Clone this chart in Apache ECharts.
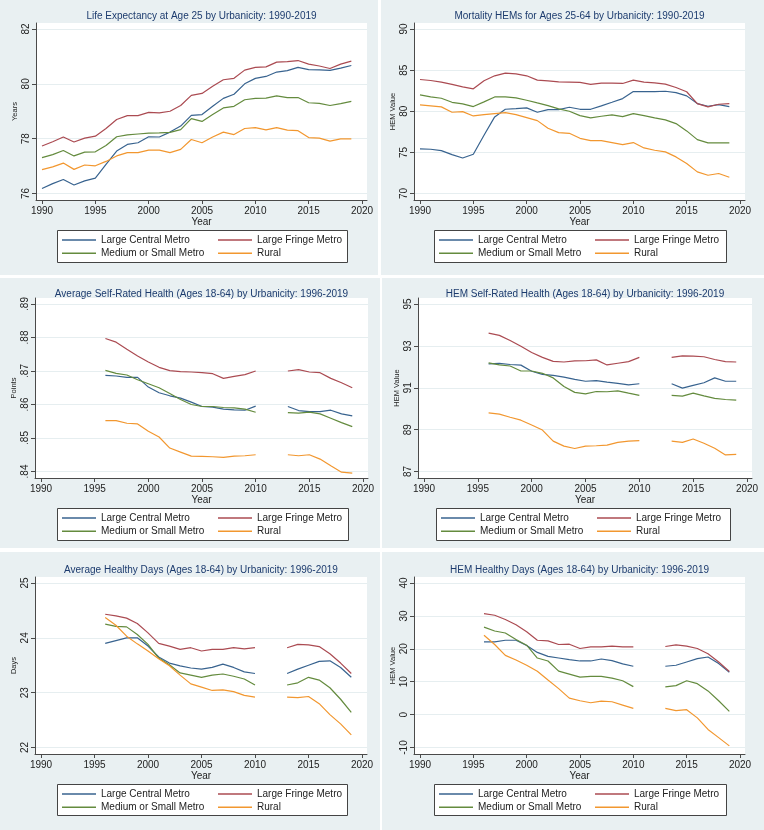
<!DOCTYPE html>
<html><head><meta charset="utf-8">
<script src="https://cdn.jsdelivr.net/npm/echarts@6/dist/echarts.min.js"></script>
<style>
html,body{margin:0;padding:0;background:#fff;}
body{width:764px;height:830px;position:relative;overflow:hidden;}
.p{position:absolute;background:#e9f0f2;}
</style></head><body>
<div id="c1" class="p" style="left:0;top:0;width:378px;height:275px"></div>
<div id="c2" class="p" style="left:381px;top:0;width:383px;height:275px"></div>
<div id="c3" class="p" style="left:0;top:278px;width:380px;height:270px"></div>
<div id="c4" class="p" style="left:382px;top:278px;width:382px;height:270px"></div>
<div id="c5" class="p" style="left:0;top:552px;width:380px;height:278px"></div>
<div id="c6" class="p" style="left:382px;top:552px;width:382px;height:278px"></div>
<script>
// ---------- data ----------
const seriesNames = ['Large Central Metro','Large Fringe Metro','Medium or Small Metro','Rural'];
const xTicks = [1990,1995,2000,2005,2010,2015,2020];

const years1990 = [1990,1991,1992,1993,1994,1995,1996,1997,1998,1999,2000,2001,2002,2003,2004,2005,2006,2007,2008,2009,2010,2011,2012,2013,2014,2015,2016,2017,2018,2019];
const years1996 = [1996,1997,1998,1999,2000,2001,2002,2003,2004,2005,2006,2007,2008,2009,2010,2011,2012,2013,2014,2015,2016,2017,2018,2019];

// Life expectancy at age 25
const leCentral = [76.18,76.36,76.51,76.31,76.46,76.56,77.06,77.55,77.79,77.85,78.07,78.06,78.24,78.46,78.85,78.88,79.18,79.47,79.62,80.00,80.20,80.27,80.43,80.48,80.60,80.52,80.51,80.49,80.57,80.67];
const leFringe  = [77.73,77.89,78.06,77.88,78.02,78.09,78.37,78.70,78.84,78.84,78.96,78.94,79.00,79.21,79.58,79.65,79.91,80.15,80.20,80.50,80.60,80.62,80.79,80.81,80.85,80.72,80.65,80.56,80.72,80.83];
const leMedium  = [77.31,77.42,77.57,77.37,77.51,77.52,77.75,78.07,78.14,78.17,78.20,78.21,78.23,78.33,78.73,78.63,78.88,79.12,79.18,79.42,79.47,79.48,79.56,79.50,79.50,79.31,79.29,79.21,79.28,79.36];
const leRural   = [76.87,76.97,77.11,76.88,77.04,77.01,77.17,77.37,77.49,77.49,77.58,77.58,77.49,77.61,77.97,77.85,78.06,78.24,78.15,78.37,78.40,78.32,78.40,78.31,78.29,78.04,78.02,77.91,77.99,77.99];
const leTicks = [76,78,80,82];

// Mortality HEMs ages 25-64
const mhCentral = [75.42,75.38,75.22,74.73,74.32,74.77,77.08,79.31,80.24,80.32,80.41,79.88,80.20,80.20,80.49,80.24,80.24,80.65,81.09,81.54,82.39,82.39,82.39,82.43,82.27,81.87,80.93,80.61,80.81,80.57];
const mhFringe  = [83.86,83.74,83.54,83.26,82.97,82.73,83.70,84.31,84.64,84.55,84.31,83.78,83.70,83.58,83.54,83.50,83.26,83.42,83.42,83.38,83.78,83.54,83.46,83.30,82.89,82.37,80.93,80.53,80.85,80.93];
const mhMedium  = [81.99,81.74,81.58,81.09,80.89,80.57,81.14,81.74,81.74,81.62,81.34,81.01,80.69,80.28,80.00,79.47,79.19,79.39,79.55,79.35,79.72,79.47,79.19,78.95,78.50,77.61,76.55,76.15,76.15,76.15];
const mhRural   = [80.77,80.65,80.53,79.88,79.96,79.43,79.59,79.72,79.84,79.59,79.23,78.86,77.93,77.40,77.32,76.71,76.43,76.43,76.19,75.94,76.19,75.54,75.26,75.06,74.45,73.64,72.63,72.22,72.43,71.98];
const mhTicks = [70,75,80,85,90];

// Average self-rated health
const srCentral = [.8687,.8685,.8681,.8681,.8652,.8635,.8626,.8619,.8607,.8594,.8592,.8586,.8584,.8583,.8595,null,null,.8594,.8582,.8579,.8579,.8583,.8572,.8566];
const srFringe  = [.8797,.8786,.8765,.8745,.8727,.8711,.8701,.8698,.8697,.8695,.8692,.8678,.8684,.8689,.8700,null,null,.8700,.8704,.8697,.8695,.8678,.8665,.8650];
const srMedium  = [.8702,.8693,.8688,.8674,.8662,.8650,.8633,.8615,.8600,.8594,.8594,.8591,.8590,.8586,.8577,null,null,.8576,.8574,.8577,.8572,.8559,.8546,.8534];
const srRural   = [.8552,.8552,.8544,.8542,.8520,.8503,.8470,.8458,.8446,.8445,.8444,.8442,.8446,.8447,.8450,null,null,.8450,.8447,.8450,.8437,.8417,.8398,.8395];
const srTicks = [0.84,0.85,0.86,0.87,0.88,0.89];

// HEM self-rated health
const hsCentral = [92.14,92.16,92.11,92.08,91.79,91.64,91.59,91.51,91.40,91.31,91.34,91.27,91.21,91.14,91.19,null,null,91.19,90.98,91.11,91.24,91.47,91.31,91.31];
const hsFringe  = [93.61,93.50,93.26,92.98,92.68,92.45,92.26,92.23,92.28,92.29,92.33,92.09,92.17,92.25,92.45,null,null,92.45,92.52,92.51,92.48,92.35,92.25,92.23];
const hsMedium  = [92.19,92.09,92.04,91.80,91.80,91.69,91.47,91.06,90.78,90.71,90.82,90.81,90.85,90.74,90.64,null,null,90.64,90.60,90.74,90.61,90.49,90.44,90.41];
const hsRural   = [89.80,89.74,89.59,89.45,89.22,88.98,88.45,88.21,88.10,88.21,88.23,88.26,88.39,88.45,88.47,null,null,88.45,88.39,88.55,88.35,88.11,87.79,87.82];
const hsTicks = [87,89,91,93,95];

// Average healthy days
const hdCentral = [23.90,23.95,24.00,24.00,23.85,23.65,23.54,23.49,23.45,23.43,23.46,23.52,23.46,23.38,23.35,null,null,23.35,23.43,23.50,23.57,23.58,23.46,23.28];
const hdFringe  = [24.43,24.40,24.36,24.26,24.09,23.90,23.85,23.79,23.82,23.76,23.79,23.79,23.82,23.80,23.82,null,null,23.82,23.88,23.87,23.84,23.71,23.54,23.35];
const hdMedium  = [24.25,24.21,24.20,24.06,23.88,23.63,23.51,23.36,23.32,23.28,23.32,23.34,23.30,23.25,23.14,null,null,23.14,23.18,23.28,23.23,23.09,22.88,22.64];
const hdRural   = [24.37,24.23,24.03,23.89,23.76,23.62,23.49,23.32,23.16,23.10,23.04,23.05,23.02,22.95,22.92,null,null,22.92,22.91,22.93,22.80,22.60,22.43,22.23];
const hdTicks = [22,23,24,25];

// HEM healthy days
const hhCentral = [22.1,22.1,22.6,22.6,21.0,18.9,17.7,17.2,16.7,16.3,16.3,16.9,16.4,15.4,14.7,null,null,14.7,15.0,16.0,17.0,17.5,15.5,12.9];
const hhFringe  = [30.7,30.2,28.9,27.3,25.2,22.6,22.4,21.3,21.4,20.1,20.6,20.6,20.8,20.6,20.6,null,null,20.7,21.2,20.8,20.1,18.5,16.0,13.1];
const hhMedium  = [26.6,25.4,24.8,22.8,21.1,17.2,16.3,13.2,12.3,11.4,11.6,11.6,11.1,10.3,8.5,null,null,8.4,8.8,10.3,9.4,7.2,4.2,1.0];
const hhRural   = [24.1,21.3,18.0,16.6,15.0,13.2,10.5,7.9,5.0,4.2,3.6,4.1,3.9,2.9,1.9,null,null,1.9,1.2,1.5,-1.0,-4.5,-7.0,-9.5];
const hhTicks = [-10,0,10,20,30,40];

// ---------- styling ----------
const FONT = '"Liberation Sans", Arial, Helvetica, sans-serif';
const lineColors = ['#38638f','#ab4b52','#648b3e','#f2972f'];
const titleColor = '#1c3b6e';

function makePanel(id, cfg) {
  const chart = echarts.init(document.getElementById(id));
  const L = cfg.layout;
  const W = L.plot[2] - L.plot[0], H = L.plot[3] - L.plot[1];
  const x0 = xTicks[0], x1 = xTicks[xTicks.length - 1];
  const px = (W - 11) / (x1 - x0);
  const y0 = cfg.yTicks[0], y1 = cfg.yTicks[cfg.yTicks.length - 1];
  const py = (H - 12.5) / (y1 - y0);
  const axisCol = '#4a4a4a';
  const series = cfg.values.map((vals, i) => ({
    type: 'line', name: seriesNames[i],
    data: cfg.years.map((y, j) => [y, vals[j]]),
    symbol: 'none', showSymbol: false, connectNulls: false, silent: true,
    lineStyle: { width: 1.2, color: lineColors[i] },
    itemStyle: { color: lineColors[i] }
  }));
  const legBase = {
    orient: 'vertical', padding: 0, itemWidth: 34, itemHeight: 1.6, itemGap: 0.3,
    icon: 'rect', selectedMode: false,
    textStyle: { fontSize: 10, color: '#222', fontFamily: FONT, lineHeight: 13 }
  };
  const option = {
    animation: false,
    textStyle: { fontFamily: FONT },
    grid: { left: L.plot[0], top: L.plot[1], width: W, height: H, show: true,
            backgroundColor: '#ffffff', borderWidth: 0,
            containLabel: false, outerBoundsMode: 'none' },
    xAxis: {
      type: 'value', min: x0 - 6 / px, max: x1 + 5 / px,
      name: 'Year', nameLocation: 'middle', nameGap: 17, nameMoveOverlap: false,
      nameTextStyle: { fontSize: 10, color: '#222' },
      axisLine: { onZero: false, lineStyle: { color: axisCol, width: 1 } },
      axisTick: { show: true, length: 4, customValues: xTicks, lineStyle: { color: axisCol } },
      axisLabel: { customValues: xTicks, fontSize: 10, color: '#222', margin: 6,
                   formatter: v => String(Math.round(v)) },
      splitLine: { show: false }
    },
    yAxis: {
      type: 'value', min: y0 - 6.5 / py, max: y1 + 6 / py,
      name: cfg.yName, nameLocation: 'middle', nameGap: 17.5, nameRotate: 90, nameMoveOverlap: false,
      nameTextStyle: { fontSize: 7.5, color: '#222' },
      axisLine: { show: true, onZero: false, lineStyle: { color: axisCol, width: 1 } },
      axisTick: { show: true, length: 4, customValues: cfg.yTicks, lineStyle: { color: axisCol } },
      axisLabel: { customValues: cfg.yTicks, rotate: 90, fontSize: 10, color: '#222', margin: 5,
                   formatter: cfg.yFmt },
      splitLine: { show: true, lineStyle: { color: '#e6eef0', width: 1 } }
    },
    legend: [
      Object.assign({}, legBase, { left: L.leg[0] + 5, top: L.leg[1] + 3.5, data: [seriesNames[0], seriesNames[2]] }),
      Object.assign({}, legBase, { left: L.leg[0] + 161, top: L.leg[1] + 3.5, data: [seriesNames[1], seriesNames[3]] })
    ],
    graphic: [
      { type: 'rect', z: 1, shape: { x: L.leg[0] + 0.5, y: L.leg[1] + 0.5, width: L.leg[2] - L.leg[0], height: L.leg[3] - L.leg[1] },
        style: { fill: '#ffffff', stroke: '#444', lineWidth: 1 } },
      { type: 'text', z: 5, x: (L.plot[0] + L.plot[2]) / 2, y: L.titleY,
        style: { text: cfg.title, fill: titleColor, fontSize: 10, fontFamily: FONT,
                 align: 'center', verticalAlign: 'middle', textAlign: 'center', textVerticalAlign: 'middle' } }
    ],
    series: series
  };
  chart.setOption(option);
}

const plain = v => String(Math.round(v * 100) / 100);
const dotFmt = v => v.toFixed(2).replace(/^0/, '');

makePanel('c1', { title: 'Life Expectancy at Age 25 by Urbanicity: 1990-2019', yName: 'Years',
  years: years1990, values: [leCentral, leFringe, leMedium, leRural], yTicks: leTicks, yFmt: plain,
  layout: { plot: [36, 23, 367, 200], leg: [57, 230, 347, 262], titleY: 16 } });
makePanel('c2', { title: 'Mortality HEMs for Ages 25-64 by Urbanicity: 1990-2019', yName: 'HEM Value',
  years: years1990, values: [mhCentral, mhFringe, mhMedium, mhRural], yTicks: mhTicks, yFmt: plain,
  layout: { plot: [33, 23, 364, 200], leg: [53, 230, 345, 262], titleY: 16 } });
makePanel('c3', { title: 'Average Self-Rated Health (Ages 18-64) by Urbanicity: 1996-2019', yName: 'Points',
  years: years1996, values: [srCentral, srFringe, srMedium, srRural], yTicks: srTicks, yFmt: dotFmt,
  layout: { plot: [35, 20, 368, 200], leg: [57, 230, 348, 262], titleY: 16 } });
makePanel('c4', { title: 'HEM Self-Rated Health (Ages 18-64) by Urbanicity: 1996-2019', yName: 'HEM Value',
  years: years1996, values: [hsCentral, hsFringe, hsMedium, hsRural], yTicks: hsTicks, yFmt: plain,
  layout: { plot: [36, 20, 370, 200], leg: [54, 230, 348, 262], titleY: 16 } });
makePanel('c5', { title: 'Average Healthy Days (Ages 18-64) by Urbanicity: 1996-2019', yName: 'Days',
  years: years1996, values: [hdCentral, hdFringe, hdMedium, hdRural], yTicks: hdTicks, yFmt: plain,
  layout: { plot: [35, 25, 367, 202], leg: [57, 232, 347, 263], titleY: 18 } });
makePanel('c6', { title: 'HEM Healthy Days (Ages 18-64) by Urbanicity: 1996-2019', yName: 'HEM Value',
  years: years1996, values: [hhCentral, hhFringe, hhMedium, hhRural], yTicks: hhTicks, yFmt: plain,
  layout: { plot: [32, 25, 363, 202], leg: [52, 232, 344, 263], titleY: 18 } });
</script>
</body></html>
